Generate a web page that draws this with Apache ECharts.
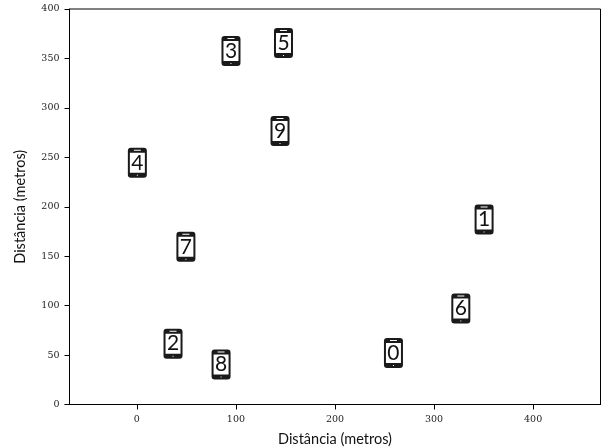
<!DOCTYPE html>
<html><head><meta charset="utf-8">
<style>html,body{margin:0;padding:0;background:#fff}#c{width:610px;height:447px}</style>
<script src="https://cdn.jsdelivr.net/npm/echarts@6/dist/echarts.min.js"></script>
</head><body><div id="c"></div>
<script>
const labels = ['0','1','2','3','4','5','6','7','8','9'];
const xValues = [259, 350.5, 36.5, 95, 0.5, 148, 327, 49.5, 85, 144.5];
const yValues = [52, 187, 61.5, 357.5, 244.5, 365.5, 97, 159.5, 40.5, 276.5];
const xTicks = [0, 100, 200, 300, 400];
const axisTitle = 'Distância (metros)';
const phone = 'path://M3 0H16C18 0 19 1 19 3V27C19 29 18 30 16 30H3C1 30 0 29 0 27V3C0 1 1 0 3 0Z' +
  'M2 5V25H17V5ZM6 2V3H13V2ZM9 27V28H10V27Z';
const chart = echarts.init(document.getElementById('c'), null, {renderer:'canvas'});
const ax = (name, gap) => ({
  name, nameLocation:'middle', nameGap:gap,
  nameTextStyle:{fontFamily:'Lato',fontSize:14.5,color:'#111'},
  axisLine:{show:true,onZero:false,lineStyle:{color:'#000',width:1}},
  axisTick:{show:true,length:5,lineStyle:{color:'#000',width:1}},
  axisLabel:{fontFamily:'DejaVu Serif',fontSize:9.5,color:'#222',margin:10},
  splitLine:{show:false}
});
chart.setOption({
  animation:false,
  backgroundColor:'#fff',
  grid:{left:69.5,right:9.5,top:9,bottom:42.5,outerBoundsMode:'none',containLabel:false,show:true,borderColor:'#000',borderWidth:1,backgroundColor:'transparent'},
  xAxis:Object.assign(ax(axisTitle,27),{type:'value',min:-68,max:468,
    axisTick:{show:true,length:5,customValues:xTicks,lineStyle:{color:'#000'}},
    axisLabel:{fontFamily:'DejaVu Serif',fontSize:9.5,color:'#222',margin:10,customValues:xTicks,hideOverlap:false}}),
  yAxis:Object.assign(ax(axisTitle,42),{type:'value',min:0,max:400,interval:50}),
  series:[{
    type:'scatter',
    data:xValues.map((x,i)=>({value:[x,yValues[i]],name:labels[i]})),
    symbol:phone,symbolSize:[19,30],
    itemStyle:{color:'#1a1a1a',opacity:1},
    label:{show:true,position:'inside',formatter:p=>p.name,fontFamily:'Lato',fontSize:21,color:'#111'},
    silent:true
  }]
});
</script></body></html>
